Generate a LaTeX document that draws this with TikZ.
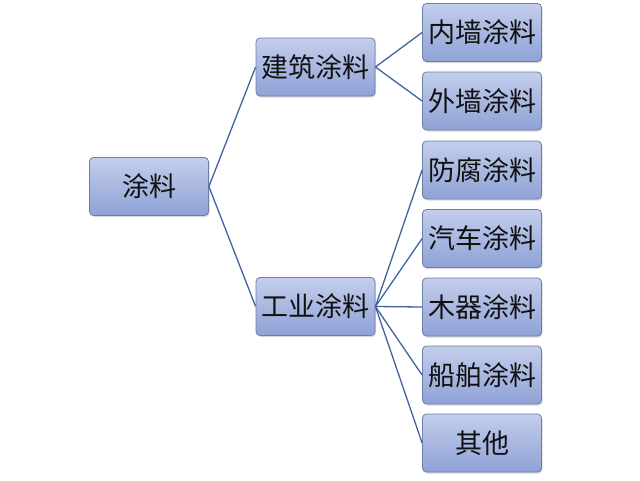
\documentclass[tikz,border=0pt]{standalone}
\usepackage{fontspec}
\newfontfamily\cjk{Noto Sans CJK SC}
\usetikzlibrary{shadows}
\definecolor{ink}{HTML}{111111}
\definecolor{edge}{HTML}{6E7EA6}
\definecolor{line}{HTML}{3F64A0}
\definecolor{topb}{HTML}{C3CEEC}
\definecolor{botb}{HTML}{8FA2D6}
\tikzset{
  box/.style={draw=edge,line width=.8pt,rounded corners=4pt,top color=topb,bottom color=botb,
    minimum width=119pt,minimum height=58pt,inner sep=0pt,align=center,
    font=\cjk\fontsize{27}{31}\selectfont,text=ink,
    drop shadow={shadow xshift=1pt,shadow yshift=-1.5pt,opacity=.25,fill=black!60}},
  ln/.style={draw=line,line width=1.3pt},
}
\begin{document}
\begin{tikzpicture}[x=1pt,y=-1pt]
  \useasboundingbox (0,0) rectangle (640,480);
  \node[box] (root) at (149,186.5) {涂料};
  \node[box] (arch) at (315.5,67) {建筑涂料};
  \node[box] (ind) at (315.5,306.5) {工业涂料};
  \node[box] (inner) at (482,32.5) {内墙涂料};
  \node[box] (outer) at (482,101) {外墙涂料};
  \node[box] (anti) at (482,170) {防腐涂料};
  \node[box] (car) at (482,238.5) {汽车涂料};
  \node[box] (wood) at (482,307) {木器涂料};
  \node[box] (ship) at (482,375) {船舶涂料};
  \node[box] (other) at (482,443) {其他};
  \foreach \n in {arch,ind} \draw[ln] (root.east) -- (\n.west);
  \foreach \n in {inner,outer} \draw[ln] (arch.east) -- (\n.west);
  \foreach \n in {anti,car,wood,ship,other} \draw[ln] (ind.east) -- (\n.west);
\end{tikzpicture}
\end{document}
